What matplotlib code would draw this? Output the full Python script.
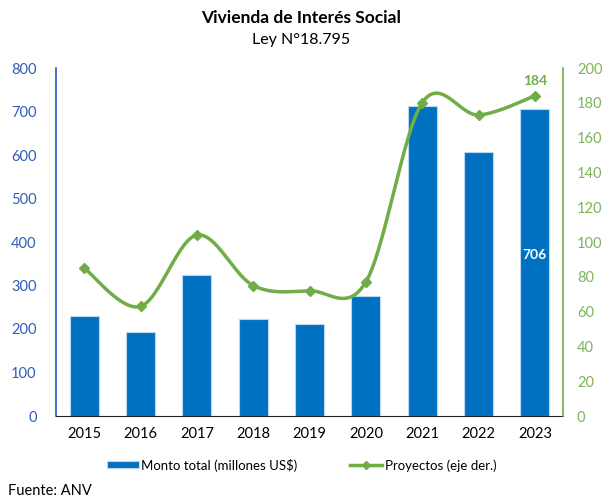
import numpy as np
import matplotlib.pyplot as plt

plt.rcParams['font.family'] = ['Lato', 'DejaVu Sans']

years = ['2015', '2016', '2017', '2018', '2019', '2020', '2021', '2022', '2023']
monto = [230, 193, 325, 223, 211, 277, 713, 606, 706]
proyectos = [85, 63, 104, 75, 72, 77, 180, 173, 184]

blue = '#0070C0'
green = '#70AD47'


def smooth(x, y, n=30):
    # catmull-rom style smoothing, like Excel's smoothed line
    x = np.asarray(x, float)
    y = np.asarray(y, float)
    px = np.concatenate([[x[0]], x, [x[-1]]])
    py = np.concatenate([[y[0]], y, [y[-1]]])
    xs, ys = [], []
    t = np.linspace(0, 1, n)
    for i in range(1, len(px) - 2):
        p0, p1, p2, p3 = (np.array([px[j], py[j]]) for j in range(i - 1, i + 3))
        c1 = p1 + (p2 - p0) / 6
        c2 = p2 - (p3 - p1) / 6
        b = ((1 - t) ** 3)[:, None] * p1 + (3 * (1 - t) ** 2 * t)[:, None] * c1 \
            + (3 * (1 - t) * t ** 2)[:, None] * c2 + (t ** 3)[:, None] * p2
        xs.extend(b[:, 0])
        ys.extend(b[:, 1])
    return np.array(xs), np.array(ys)


fig = plt.figure(figsize=(6.03, 5.03), dpi=100)
ax = fig.add_axes([56 / 603, 1 - 416 / 503, 507 / 603, 348 / 503])
ax2 = ax.twinx()

x = np.arange(len(years))
bars = ax.bar(x, monto, width=0.52, color=blue, edgecolor='#BDD7EE', linewidth=0.8,
              label='Monto total (millones US$)')
ax.set_ylim(0, 800)
ax.set_xlim(-0.5, len(years) - 0.5)
ax.set_yticks(np.arange(0, 801, 100))
ax.set_xticks(x)
ax.set_xticklabels(years)
ax.tick_params(axis='y', colors='#2F5DB8', labelsize=10.5, length=0, pad=14)
ax.tick_params(axis='x', length=0, labelsize=10.5, pad=8)
ax.spines['left'].set_color('#1F5BC4')
ax.spines['left'].set_linewidth(1.2)
ax.spines['bottom'].set_color('#222222')
ax.spines['top'].set_visible(False)
ax.spines['right'].set_visible(False)

sx, sy = smooth(x, proyectos)
ax2.plot(sx, sy, color=green, linewidth=2.5, zorder=3)
ax2.plot(x, proyectos, linestyle='none', marker='D', markersize=5.5, color=green, zorder=4)
line_leg, = ax2.plot([], [], color=green, linewidth=2.5, marker='D', markersize=4,
                     label='Proyectos (eje der.)')
ax2.set_ylim(0, 200)
ax2.set_yticks(np.arange(0, 201, 20))
ax2.tick_params(axis='y', colors='#7DB45A', labelsize=10.5, length=0, pad=10)
ax2.spines['right'].set_color(green)
ax2.spines['right'].set_linewidth(1.2)
ax2.spines['left'].set_visible(False)
ax2.spines['top'].set_visible(False)
ax2.spines['bottom'].set_visible(False)

ax.text(x[-1], 370, str(monto[-1]), color='white', fontsize=10, fontweight='bold',
        ha='center', va='center')
ax2.text(x[-1], proyectos[-1] + 5, str(proyectos[-1]), color=green, fontsize=10,
         fontweight='bold', ha='center', va='bottom')

fig.text(0.5, 1 - 18 / 503, 'Vivienda de Interés Social', ha='center', va='center',
         fontsize=12.5, fontweight='bold')
fig.text(0.5, 1 - 40 / 503, 'Ley N°18.795', ha='center', va='center', fontsize=11.5)

fig.legend(handles=[bars, line_leg], loc='center', bbox_to_anchor=(0.5, 1 - 465 / 503),
           ncol=2, frameon=False, fontsize=9.5, handlelength=2.4, handleheight=0.4,
           columnspacing=4, handletextpad=0.2)
fig.text(8 / 603, 1 - 491 / 503, 'Fuente: ANV', ha='left', va='center', fontsize=10.5)

fig.savefig('out.png', dpi=100)
